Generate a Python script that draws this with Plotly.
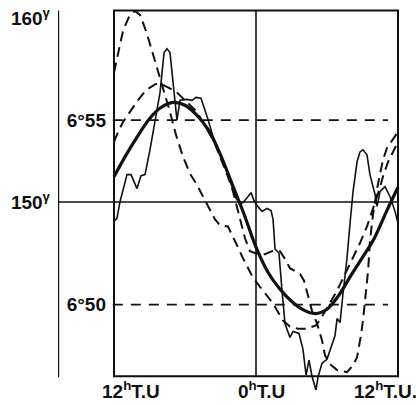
import plotly.graph_objects as go

# ---- data (hours counted from 12h T.U.) ----
# thick solid curve: mean H (gammas)
mean_t = [0, 1, 2, 3, 4, 5, 6, 7, 8, 9, 10, 11, 12, 13, 14, 15, 16, 17, 18, 19, 20, 21, 22, 23, 24]
mean_h = [151.38, 152.54, 153.59, 154.54, 155.16, 155.43, 155.27, 154.73, 153.90, 152.57, 150.95,
          149.32, 147.54, 146.19, 145.27, 144.59, 144.12, 143.92, 144.16, 144.92, 145.97, 146.98,
          148.03, 149.45, 150.80]

# thin solid curve: recorded H (gammas)
obs_t = [0.00, 0.25, 0.51, 0.85, 1.10, 1.44, 1.94, 2.28, 2.62, 3.04, 3.46, 3.89, 4.23, 4.48, 4.73,
         5.07, 5.32, 5.58, 6.17, 6.59, 6.93, 7.35, 7.69, 7.94, 8.37, 8.96, 9.63, 10.23, 10.65, 10.99,
         11.32, 11.58, 11.83, 12.08, 12.51, 12.93, 13.27, 13.44, 13.61, 13.94, 14.20, 14.45, 14.87,
         15.13, 15.63, 15.97, 16.23, 16.48, 16.73, 17.07, 17.24, 17.58, 18.00, 18.34, 18.68, 18.85,
         19.10, 19.35, 19.69, 19.94, 20.20, 20.54, 20.79, 21.04, 21.38, 21.63, 22.06, 22.23, 22.48,
         22.90, 23.32, 23.75, 24.00]
obs_h = [148.95, 149.11, 150.03, 150.84, 151.49, 151.49, 150.73, 151.43, 151.49, 152.84, 154.35,
         155.97, 158.14, 158.35, 158.14, 155.97, 154.46, 155.54, 155.59, 155.54, 155.70, 155.65,
         155.05, 154.51, 153.54, 152.62, 151.54, 150.30, 149.86, 150.03, 150.30, 150.51, 150.08,
         149.81, 149.49, 149.65, 149.54, 149.05, 147.43, 147.22, 145.16, 143.38, 142.62, 142.95,
         142.84, 141.97, 140.57, 141.38, 140.51, 139.76, 140.46, 141.22, 141.43, 142.08, 142.73,
         143.65, 143.43, 145.00, 146.95, 148.78, 150.57, 152.19, 152.73, 152.84, 152.57, 151.49,
         150.41, 149.76, 150.57, 150.84, 150.30, 149.49, 148.84]

# dashed curves: declination, minutes of arc above 6°
d1_t = [0.00, 0.34, 0.76, 1.27, 1.77, 2.20, 2.70, 3.21, 3.72, 4.23, 4.73, 5.24, 5.83, 6.42, 7.01,
        7.52, 8.11, 8.54, 8.96, 9.63, 10.23, 10.90, 11.75, 12.59, 13.44, 14.28, 14.87, 15.55, 16.31,
        17.07, 17.58, 18.25, 18.85, 19.52, 20.20, 20.79, 21.38, 21.89, 22.31, 22.73, 23.16, 23.58, 24.00]
d1_m = [56.29, 56.83, 57.42, 57.80, 57.96, 57.85, 57.42, 56.88, 56.34, 55.81, 55.22, 54.60, 54.01,
        53.55, 53.25, 52.93, 52.58, 52.31, 52.15, 52.12, 51.72, 51.26, 50.73, 50.38, 50.03, 49.57,
        49.41, 49.35, 49.35, 49.44, 49.68, 50.05, 50.38, 50.83, 51.26, 51.67, 52.12, 52.58, 53.01,
        53.47, 53.87, 54.14, 54.41]

d2_t = [0.00, 0.34, 0.76, 1.35, 2.03, 2.70, 3.46, 3.89, 4.56, 5.32, 6.17, 7.01, 7.86, 8.54, 9.13,
        9.63, 10.06, 10.39, 10.73, 11.07, 11.49, 12.17, 12.76, 13.35, 14.03, 14.45, 14.87, 15.72,
        16.06, 16.39, 16.73, 17.16, 17.58, 17.83, 18.25, 18.85, 19.69, 20.20, 20.54, 20.87, 21.04,
        21.30, 21.47, 21.63, 21.89, 22.31, 22.73, 23.07, 23.49, 24.00]
d2_m = [54.41, 54.68, 54.95, 55.22, 55.54, 55.81, 55.97, 55.99, 55.89, 55.75, 55.48, 55.22, 54.76,
        54.35, 53.87, 53.47, 53.06, 52.66, 52.20, 51.80, 51.45, 51.37, 51.37, 51.45, 51.45, 51.24,
        50.99, 50.83, 50.65, 50.24, 49.84, 49.49, 49.03, 48.63, 48.39, 48.23, 48.17, 48.36, 48.58,
        49.17, 49.57, 50.38, 50.91, 51.72, 52.45, 53.28, 53.92, 54.25, 54.46, 54.68]

h_ticks = [150, 160]
h_labels = ["150<sup>γ</sup>", "160<sup>γ</sup>"]
d_ticks = [50, 55]
d_labels = ["6°50", "6°55"]
x_labels = ["12<sup>h</sup>T.U", "0<sup>h</sup>T.U", "12<sup>h</sup>T.U."]

FONT = "Liberation Sans, Arial, sans-serif"
INK = "#111111"

fig = go.Figure()
fig.add_trace(go.Scatter(x=d1_t, y=d1_m, mode="lines", yaxis="y2",
                         line=dict(color=INK, width=2, dash="10px,6px"), hoverinfo="skip"))
fig.add_trace(go.Scatter(x=d2_t, y=d2_m, mode="lines", yaxis="y2",
                         line=dict(color=INK, width=2, dash="10px,6px"), hoverinfo="skip"))
fig.add_trace(go.Scatter(x=obs_t, y=obs_h, mode="lines",
                         line=dict(color=INK, width=1.6), hoverinfo="skip"))
fig.add_trace(go.Scatter(x=mean_t, y=mean_h, mode="lines", line_shape="spline",
                         line=dict(color=INK, width=3.2), hoverinfo="skip"))

H_TOP = 160.43
H_BOT = 140.51
shapes = [
    dict(type="rect", xref="x", yref="y", x0=0, x1=24, y0=H_BOT, y1=H_TOP,
         line=dict(color=INK, width=2)),
    dict(type="line", xref="x", yref="y", x0=12, x1=12, y0=H_BOT, y1=H_TOP,
         line=dict(color=INK, width=1.6)),
    dict(type="line", xref="x", yref="y", x0=-4.70, x1=24, y0=150, y1=150,
         line=dict(color=INK, width=1.6)),
    dict(type="line", xref="x", yref="y", x0=-4.70, x1=-4.70, y0=140.45, y1=H_TOP,
         line=dict(color=INK, width=1.6)),
    dict(type="line", xref="x", yref="y2", x0=-0.1, x1=23.15, y0=55, y1=55,
         line=dict(color=INK, width=1.8, dash="10px,8px")),
    dict(type="line", xref="x", yref="y2", x0=-0.1, x1=23.15, y0=50, y1=50,
         line=dict(color=INK, width=1.8, dash="10px,8px")),
]

annotations = []
for xpos, txt in zip([1.44, 12.5, 22.95], x_labels):
    annotations.append(dict(x=xpos, y=0.012, xref="x", yref="paper", text=txt, showarrow=False,
                            xanchor="center", yanchor="middle",
                            font=dict(family=FONT, size=19, color=INK, weight="bold")))

fig.update_layout(
    width=416, height=405,
    margin=dict(l=58, r=14, t=5, b=10),
    paper_bgcolor="white", plot_bgcolor="white",
    showlegend=False,
    shapes=shapes,
    annotations=annotations,
    xaxis=dict(range=[-4.733, 24.338], visible=False, fixedrange=True),
    yaxis=dict(range=[139.486, 160.568], tickvals=h_ticks, ticktext=h_labels,
               showgrid=False, zeroline=False, showline=False, ticks="",
               ticklabelstandoff=7,
               tickfont=dict(family=FONT, size=19, color=INK, weight="bold")),
    yaxis2=dict(range=[47.554, 58.038], overlaying="y", anchor="free", position=0.1628,
                side="left", tickvals=d_ticks, ticktext=d_labels,
                showgrid=False, zeroline=False, showline=False, ticks="",
                ticklabelstandoff=8,
                tickfont=dict(family=FONT, size=19, color=INK, weight="bold")),
)

fig.write_html("out.html", config={"displayModeBar": False},
               post_script="document.body.style.margin='0';document.body.style.overflow='hidden';")
